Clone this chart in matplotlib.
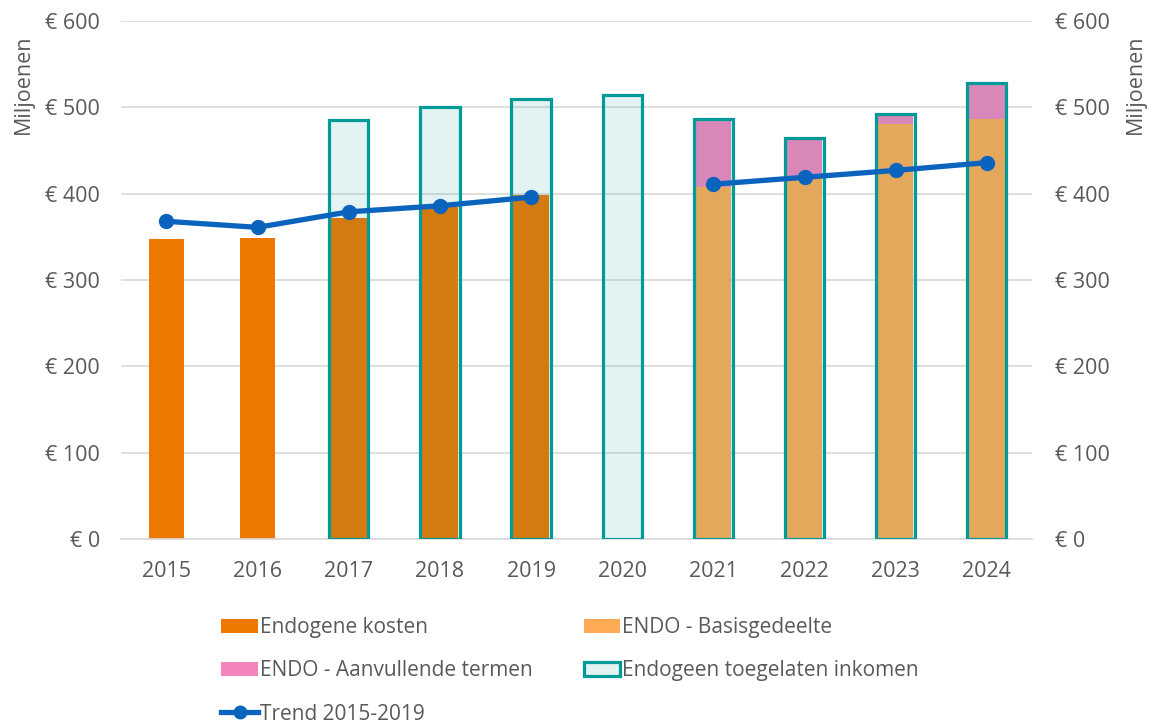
import numpy as np
import matplotlib.pyplot as plt
from matplotlib.patches import Patch
from matplotlib.lines import Line2D

years = ["2015", "2016", "2017", "2018", "2019", "2020", "2021", "2022", "2023", "2024"]
endogene_kosten = [347, 349, 372, 385, 399, np.nan, np.nan, np.nan, np.nan, np.nan]
basisgedeelte = [np.nan, np.nan, np.nan, np.nan, np.nan, np.nan, 408, 418, 481, 487]
aanvullende = [np.nan, np.nan, np.nan, np.nan, np.nan, np.nan, 78, 47, 11, 41]
toegelaten = [np.nan, np.nan, 485, 500, 510, 514, 486, 465, 492, 528]
trend = [368, 361, 379, 386, 396, np.nan, 411, 419, 427, 436]

orange = "#EE7700"
light_orange = "#FFAA55"
pink = "#F485BC"
teal = "#009B98"
blue = "#0A64BE"
grey_txt = "#595959"

plt.rcParams["font.family"] = ["Open Sans", "DejaVu Sans"]

fig = plt.figure(figsize=(11.51, 7.26), dpi=100)
ax = fig.add_axes([0.105, 0.2576, 0.792, 0.7134])
x = np.arange(len(years))

ax.bar(x, endogene_kosten, width=0.39, color=orange, zorder=2)
ax.bar(x, basisgedeelte, width=0.39, color=light_orange, zorder=2)
ax.bar(x, aanvullende, width=0.39, bottom=basisgedeelte, color=pink, zorder=2)
# toegelaten inkomen: transparent teal overlay on top of the cost bars
ax.bar(x, toegelaten, width=0.43, facecolor=(0, 0.6, 0.6, 0.11), edgecolor=teal,
       linewidth=2.3, zorder=3)
ax.plot(x, trend, color=blue, linewidth=3.8, marker="o", markersize=10, zorder=4)

ax.set_xlim(-0.5, len(years) - 0.5)
ax.set_ylim(0, 600)
yt = np.arange(0, 601, 100)
ax.set_yticks(yt)
ax.set_yticklabels([f"€ {v}" for v in yt])
ax.set_xticks(x)
ax.set_xticklabels(years)
ax.grid(axis="y", color="#D9D9D9", linewidth=1.2, zorder=0)
ax.set_axisbelow(True)
for s in ["top", "left", "right"]:
    ax.spines[s].set_visible(False)
ax.spines["bottom"].set_color("#D9D9D9")
ax.spines["bottom"].set_linewidth(1.2)
ax.tick_params(axis="both", length=0, colors=grey_txt, labelsize=15.5)
ax.tick_params(axis="y", pad=15)
ax.tick_params(axis="x", pad=16)
ax.set_ylabel("Miljoenen", color=grey_txt, fontsize=15.5)
ax.yaxis.set_label_coords(-0.095, 0.878)

ax2 = ax.twinx()
ax2.set_ylim(0, 600)
ax2.set_yticks(yt)
ax2.set_yticklabels([f"€ {v}" for v in yt])
for s in ax2.spines.values():
    s.set_visible(False)
ax2.tick_params(axis="y", length=0, colors=grey_txt, labelsize=15.5, pad=16)
ax2.set_ylabel("Miljoenen", color=grey_txt, fontsize=15.5)
ax2.yaxis.set_label_coords(1.101, 0.878)

handles = [
    Patch(facecolor=orange, label="Endogene kosten"),
    Patch(facecolor=pink, label="ENDO - Aanvullende termen"),
    Line2D([0], [0], color=blue, linewidth=3.8, marker="o", markersize=9, label="Trend 2015-2019"),
    Patch(facecolor=light_orange, label="ENDO - Basisgedeelte"),
    Patch(facecolor="#E3F2F2", edgecolor=teal, linewidth=2.3, label="Endogeen toegelaten inkomen"),
]
fig.legend(handles=handles, ncol=2, loc="upper left", bbox_to_anchor=(0.176, 0.176),
           frameon=False, fontsize=15, labelcolor=grey_txt, handlelength=1.75,
           handleheight=0.65, handletextpad=0.1, labelspacing=1.07, columnspacing=2.45)

fig.savefig("out.png", dpi=100)
